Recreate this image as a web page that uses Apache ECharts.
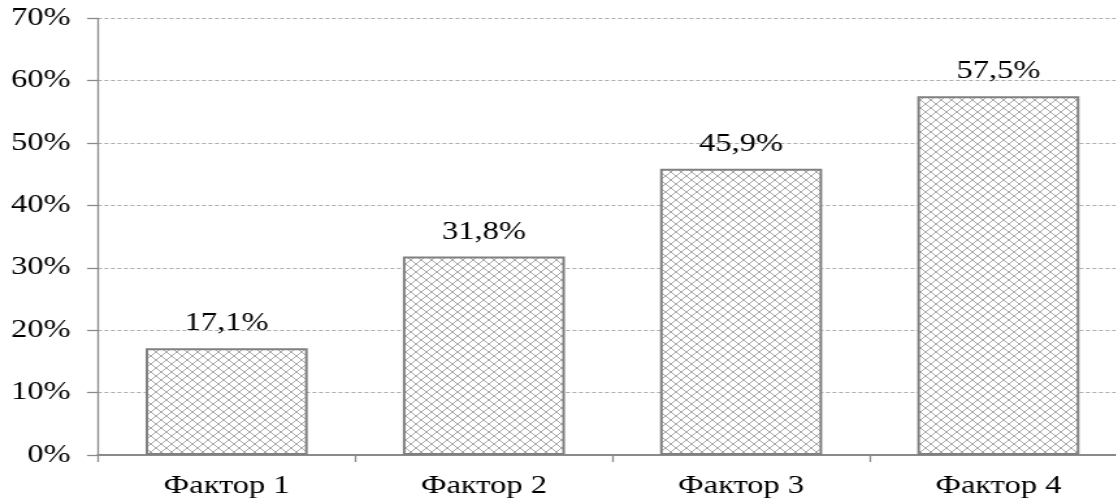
<!DOCTYPE html>
<html>
<head>
<meta charset="utf-8">
<script src="https://cdn.jsdelivr.net/npm/echarts@6/dist/echarts.min.js"></script>
<style>
  html, body { margin: 0; padding: 0; background: #fff; overflow: hidden; }
  #chart { width: 870px; height: 499px; transform: scaleX(1.3); transform-origin: 0 0; }
</style>
</head>
<body>
<div id="chart"></div>
<script>
const categories = ['Фактор 1', 'Фактор 2', 'Фактор 3', 'Фактор 4'];
const values = [17.1, 31.8, 45.9, 57.5];
const yTicks = [0, 10, 20, 30, 40, 50, 60, 70];

function hatch() {
  const c = document.createElement('canvas');
  c.width = 8; c.height = 8;
  const g = c.getContext('2d');
  g.fillStyle = '#ffffff';
  g.fillRect(0, 0, 8, 8);
  g.strokeStyle = '#a8a8a8';
  g.lineWidth = 1;
  g.beginPath();
  g.moveTo(-1, -1); g.lineTo(9, 9);
  g.moveTo(9, -1); g.lineTo(-1, 9);
  g.stroke();
  return c;
}

const font = 'Liberation Serif';
const chart = echarts.init(document.getElementById('chart'));
chart.setOption({
  animation: false,
  backgroundColor: '#ffffff',
  grid: { left: 75.4, right: 3.1, top: 18.3, bottom: 43, containLabel: false },
  xAxis: {
    type: 'category',
    data: categories,
    axisLine: { lineStyle: { color: '#8a8a8a', width: 2 } },
    axisTick: { show: true, length: 7, lineStyle: { color: '#8a8a8a', width: 1.3 } },
    axisLabel: { color: '#000', fontFamily: font, fontSize: 25, margin: 19 }
  },
  yAxis: {
    type: 'value',
    min: yTicks[0],
    max: yTicks[yTicks.length - 1],
    interval: 10,
    axisLine: { show: true, lineStyle: { color: '#8a8a8a', width: 1.3 } },
    axisTick: { show: true, length: 8.5, lineStyle: { color: '#8a8a8a', width: 1.3 } },
    axisLabel: { color: '#000', fontFamily: font, fontSize: 25, margin: 21, formatter: v => v + '%' },
    splitLine: { show: true, lineStyle: { color: '#adadad', width: 1, type: [3, 2] } }
  },
  series: [{
    type: 'bar',
    data: values,
    barWidth: '63%',
    itemStyle: {
      color: { image: hatch(), repeat: 'repeat' },
      borderColor: '#808080',
      borderWidth: 2
    },
    label: {
      show: true,
      position: 'top',
      distance: 12,
      color: '#000',
      fontFamily: font,
      fontSize: 25,
      formatter: p => String(p.value).replace('.', ',') + '%'
    }
  }]
});
</script>
</body>
</html>
